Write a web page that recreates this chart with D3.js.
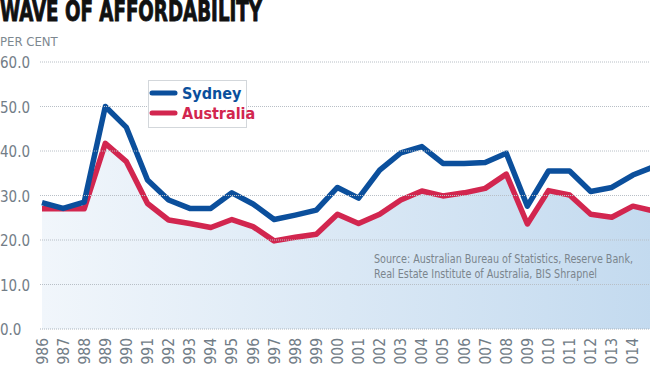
<!DOCTYPE html>
<html>
<head>
<meta charset="utf-8">
<script src="https://cdn.jsdelivr.net/npm/d3@7"></script>
<style>
  body { margin: 0; background: #fff; }
  svg { display: block; }
</style>
</head>
<body>
<div id="chart"></div>
<script>
// data
const years = [1986, 1987, 1988, 1989, 1990, 1991, 1992, 1993, 1994, 1995,
  1996, 1997, 1998, 1999, 2000, 2001, 2002, 2003, 2004, 2005,
  2006, 2007, 2008, 2009, 2010, 2011, 2012, 2013, 2014, 2015];
const sydney = [28.4, 27.1, 28.5, 50.0, 45.3, 33.5, 29.0, 27.1, 27.1, 30.6,
  28.1, 24.6, 25.6, 26.7, 31.8, 29.4, 35.7, 39.6, 41.0, 37.2,
  37.2, 37.4, 39.5, 27.6, 35.5, 35.5, 30.9, 31.8, 34.6, 36.5];
const australia = [27.0, 27.0, 27.0, 41.7, 37.6, 28.2, 24.5, 23.7, 22.8, 24.6,
  23.0, 19.8, 20.6, 21.3, 25.8, 23.7, 25.8, 29.0, 31.0, 29.9,
  30.6, 31.6, 34.8, 23.6, 31.1, 30.1, 25.8, 25.1, 27.6, 26.5];
const yTicks = [0, 10, 20, 30, 40, 50, 60];
const tickYears = years.filter(y => y <= 2014);

const width = 650, height = 366;
const condensed = "'DejaVu Sans Condensed', 'DejaVu Sans', sans-serif";

const svg = d3.select("#chart").append("svg")
  .attr("width", width)
  .attr("height", height);

const x = d3.scaleLinear().domain([1986, 2015]).range([42, 654]);
const y = d3.scaleLinear().domain([0, 60]).range([329, 62]);

// gradient for the area
const defs = svg.append("defs");
const grad = defs.append("linearGradient")
  .attr("id", "fillGrad")
  .attr("x1", "0%").attr("x2", "100%")
  .attr("y1", "0%").attr("y2", "0%");
grad.append("stop").attr("offset", "0%").attr("stop-color", "#f1f6fb");
grad.append("stop").attr("offset", "100%").attr("stop-color", "#c3daef");

defs.append("clipPath").attr("id", "plotClip")
  .append("rect").attr("x", 40).attr("y", 0).attr("width", 610).attr("height", 340);

// title
svg.append("text")
  .attr("x", 0).attr("y", 21)
  .attr("font-family", condensed)
  .attr("font-weight", "bold")
  .attr("font-size", 29)
  .attr("textLength", 262)
  .attr("lengthAdjust", "spacingAndGlyphs")
  .attr("fill", "#111")
  .attr("stroke", "#111")
  .attr("stroke-width", 0.9)
  .text("WAVE OF AFFORDABILITY");

svg.append("text")
  .attr("x", 0).attr("y", 46)
  .attr("font-family", condensed)
  .attr("font-size", 13)
  .attr("fill", "#7d8890")
  .text("PER CENT");

const plot = svg.append("g").attr("clip-path", "url(#plotClip)");

// area under Australia
plot.append("path")
  .datum(years.map((yr, i) => [yr, australia[i]]))
  .attr("fill", "url(#fillGrad)")
  .attr("d", d3.area()
    .x(d => x(d[0]))
    .y0(y(0))
    .y1(d => y(d[1])));

// gridlines
svg.append("g")
  .selectAll("line")
  .data(yTicks)
  .join("line")
  .attr("x1", 40).attr("x2", width)
  .attr("y1", d => y(d)).attr("y2", d => y(d))
  .attr("stroke", d => d === 0 ? "#a9b4bd" : "#b8bfc6")
  .attr("stroke-width", 1)
  .attr("stroke-dasharray", "1,1");

// y labels
svg.append("g")
  .selectAll("text")
  .data(yTicks)
  .join("text")
  .attr("x", 0)
  .attr("y", d => y(d) + 6)
  .attr("font-family", condensed)
  .attr("font-size", 15)
  .attr("fill", "#727d87")
  .text(d => d.toFixed(1));

// lines
const line = d3.line().x(d => x(d[0])).y(d => y(d[1]));
plot.append("path")
  .datum(years.map((yr, i) => [yr, australia[i]]))
  .attr("fill", "none")
  .attr("stroke", "#d2264f")
  .attr("stroke-width", 5.5)
  .attr("stroke-linejoin", "round")
  .attr("d", line);
plot.append("path")
  .datum(years.map((yr, i) => [yr, sydney[i]]))
  .attr("fill", "none")
  .attr("stroke", "#0b4f9c")
  .attr("stroke-width", 5.5)
  .attr("stroke-linejoin", "round")
  .attr("d", line);

// x labels (cut at the bottom edge, as in the original)
svg.append("g")
  .selectAll("text")
  .data(tickYears)
  .join("text")
  .attr("transform", d => `translate(${x(d) + 5.5},338) rotate(-90)`)
  .attr("text-anchor", "end")
  .attr("font-family", condensed)
  .attr("font-size", 15.5)
  .attr("fill", "#727d87")
  .text(d => d);

// legend
const legend = svg.append("g");
legend.append("rect")
  .attr("x", 148.5).attr("y", 80.5)
  .attr("width", 98).attr("height", 47)
  .attr("fill", "#fff")
  .attr("stroke", "#d3d7db");
const legendItems = [["Sydney", "#0b4f9c"], ["Australia", "#d2264f"]];
legend.selectAll("g")
  .data(legendItems)
  .join("g")
  .attr("transform", (d, i) => `translate(152,${93 + i * 20})`)
  .each(function (d) {
    const g = d3.select(this);
    g.append("line")
      .attr("x1", 0).attr("x2", 23)
      .attr("stroke", d[1])
      .attr("stroke-width", 5)
      .attr("stroke-linecap", "round");
    g.append("text")
      .attr("x", 30).attr("y", 6)
      .attr("font-family", condensed)
      .attr("font-weight", "bold")
      .attr("font-size", 16)
      .attr("fill", d[1])
      .text(d[0]);
  });

// source note
const source = svg.append("text")
  .attr("font-family", condensed)
  .attr("font-size", 12)
  .attr("fill", "#7b858d");
source.append("tspan").attr("x", 374).attr("y", 263)
  .attr("textLength", 259).attr("lengthAdjust", "spacingAndGlyphs")
  .text("Source: Australian Bureau of Statistics, Reserve Bank,");
source.append("tspan").attr("x", 374).attr("y", 278)
  .attr("textLength", 223).attr("lengthAdjust", "spacingAndGlyphs")
  .text("Real Estate Institute of Australia, BIS Shrapnel");
</script>
</body>
</html>
